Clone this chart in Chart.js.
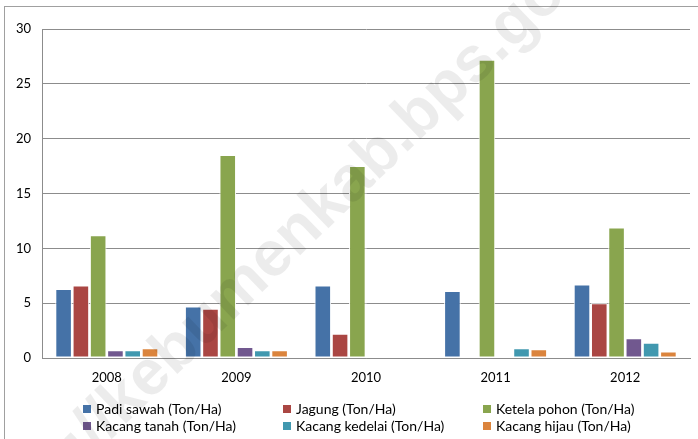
<!DOCTYPE html>
<html>
<head>
<meta charset="utf-8">
<script src="https://cdn.jsdelivr.net/npm/chart.js@4.4.0/dist/chart.umd.min.js"></script>
<style>
  html, body { margin: 0; padding: 0; background: #fff; }
  #wrap { position: relative; width: 698px; height: 439px; overflow: hidden; font-family: Lato, "Open Sans", sans-serif; }
  #frame { position: absolute; left: 4px; top: 6px; right: -2px; bottom: -2px; border-top: 1px solid #a0a0a0; border-left: 1px solid #a0a0a0; }
  canvas { position: absolute; left: 0; top: 0; }
  .leg { position: absolute; font-size: 14px; color: #000; white-space: nowrap; line-height: 16px; }
  .leg i { display: inline-block; width: 8px; height: 8px; margin-right: 5px; vertical-align: 1px; }
  #wm { position: absolute; font-size: 64px; line-height: 64px; height: 64px; font-weight: bold; color: rgba(0,0,0,0.075); white-space: nowrap; font-family: "Liberation Sans", Arial, sans-serif; pointer-events: none; }
</style>
</head>
<body>
<div id="wrap">
  <div id="frame"></div>
  <canvas id="c" width="698" height="439"></canvas>
  <div id="legend"></div>
  <div id="wm"><span id="wmpre">http://</span>kebumenkab.bps.go.id</div>
</div>
<script>
const categories = ["2008", "2009", "2010", "2011", "2012"];
const seriesNames = ["Padi sawah (Ton/Ha)", "Jagung (Ton/Ha)", "Ketela pohon (Ton/Ha)", "Kacang tanah (Ton/Ha)", "Kacang kedelai (Ton/Ha)", "Kacang hijau (Ton/Ha)"];
const padiSawah     = [6.3, 4.7, 6.6, 6.1, 6.7];
const jagung        = [6.6, 4.5, 2.2, 0, 5.0];
const ketelaPohon   = [11.2, 18.5, 17.5, 27.2, 11.9];
const kacangTanah   = [0.7, 1.0, 0, 0, 1.8];
const kacangKedelai = [0.7, 0.7, 0, 0.9, 1.4];
const kacangHijau   = [0.9, 0.7, 0, 0.8, 0.6];
const yTicks = [0, 5, 10, 15, 20, 25, 30];

const colors = ["#4572A7", "#AA4643", "#89A54E", "#71588F", "#4198AF", "#DB843D"];
const values = [padiSawah, jagung, ketelaPohon, kacangTanah, kacangKedelai, kacangHijau];

const datasets = seriesNames.map((n, i) => ({
  label: n,
  data: values[i],
  backgroundColor: colors[i],
  borderColor: "#ffffff",
  borderWidth: 1,
  borderSkipped: false,
  categoryPercentage: 0.8,
  barPercentage: 0.96
}));

new Chart(document.getElementById("c"), {
  type: "bar",
  data: { labels: categories, datasets },
  options: {
    responsive: false,
    animation: false,
    devicePixelRatio: 1,
    layout: { padding: { left: 0, right: 8, top: 29, bottom: 46 } },
    plugins: { legend: { display: false }, tooltip: { enabled: false } },
    scales: {
      x: {
        grid: { display: false, drawTicks: false },
        border: { color: "#8c8c8c", width: 1 },
        ticks: { color: "#000", font: { family: "Lato", size: 13 }, padding: 12 },
        afterFit: s => { s.height = 35; }
      },
      y: {
        min: 0, max: 30,
        afterBuildTicks: s => { s.ticks = yTicks.map(v => ({ value: v })); },
        grid: { color: "#8c8c8c", drawTicks: false },
        border: { color: "#8c8c8c", width: 1 },
        ticks: { color: "#000", font: { family: "Lato", size: 13 }, padding: 11 },
        afterFit: s => { s.width = 42; }
      }
    }
  }
});

const legendPos = [[83, 401], [283, 401], [483, 401], [83, 418], [283, 418], [483, 418]];
const legendEl = document.getElementById("legend");
seriesNames.forEach((n, i) => {
  const d = document.createElement("div");
  d.className = "leg";
  d.style.left = legendPos[i][0] + "px";
  d.style.top = legendPos[i][1] + "px";
  d.innerHTML = '<i style="background:' + colors[i] + '"></i>' + n;
  legendEl.appendChild(d);
});

// watermark: the "k" of kebumen anchored near (108, 410), rotated about -44deg
const wm = document.getElementById("wm");
const preW = document.getElementById("wmpre").offsetWidth;
const deg = -44;
const ang = deg * Math.PI / 180;
const ax = 108, ay = 410;
const sx = ax - preW * Math.cos(ang);
const sy = ay - preW * Math.sin(ang);
wm.style.transformOrigin = "0px 32px";
wm.style.left = sx + "px";
wm.style.top = (sy - 32) + "px";
wm.style.transform = "rotate(" + deg + "deg)";
</script>
</body>
</html>
